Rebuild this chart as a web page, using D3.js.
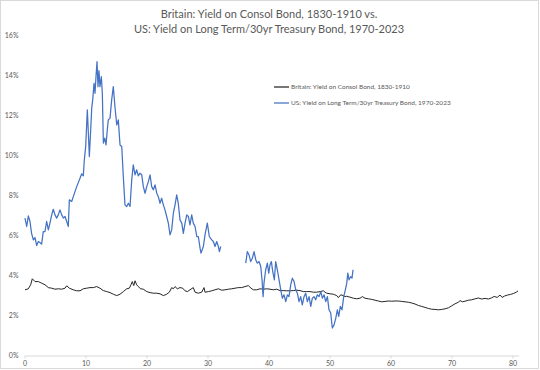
<meta charset="utf-8">
<html>
<script src="https://d3js.org/d3.v7.min.js"></script>
<style>
body { margin: 0; background: #fff; }
svg text { font-family: Lato, "Open Sans", sans-serif; fill: #595959; }
</style>
<body>
<svg id="chart" width="540" height="370"></svg>

<script type="text/javascript">

// ---- data (x = years since start of each series, y = yield in %) ----

var titleLines = ["Britain: Yield on Consol Bond, 1830-1910 vs.",
                  "US: Yield on Long Term/30yr Treasury Bond, 1970-2023"];

var seriesNames = ["Britain: Yield on Consol Bond, 1830-1910",
                   "US: Yield on Long Term/30yr Treasury Bond, 1970-2023"];

var yTicks = [0, 2, 4, 6, 8, 10, 12, 14, 16];
var xTicks = [0, 10, 20, 30, 40, 50, 60, 70, 80];

var britainYield = [
  [0.08,3.28],[0.63,3.33],[1.01,3.53],[1.28,3.83],[1.72,3.69],[2.27,3.69],[2.81,3.61],[3.36,3.53],
  [3.91,3.39],[4.46,3.36],[5.0,3.31],[5.54,3.33],[6.10,3.31],[6.64,3.36],[6.92,3.48],[7.35,3.36],
  [8.0,3.28],[8.56,3.23],[9.10,3.23],[9.64,3.33],[10.19,3.36],[10.74,3.39],[11.28,3.39],[11.84,3.44],
  [12.37,3.36],[12.93,3.24],[13.48,3.19],[14.02,3.14],[14.56,3.06],[15.12,2.99],[15.66,3.06],[16.20,3.19],
  [16.76,3.33],[17.18,3.36],[17.46,3.53],[17.67,3.69],[17.91,3.49],[18.12,3.73],[18.39,3.53],[18.65,3.44],
  [19.05,3.33],[19.48,3.31],[20.04,3.19],[20.58,3.14],[21.11,3.11],[21.68,3.11],[22.22,3.08],[22.76,2.99],
  [23.31,3.06],[23.74,3.16],[24.13,3.39],[24.40,3.33],[24.68,3.44],[25.05,3.33],[25.49,3.39],[25.94,3.36],
  [26.32,3.23],[26.70,3.19],[27.13,3.28],[27.67,3.39],[27.96,3.16],[28.50,3.11],[29.05,3.16],[29.43,3.39],
  [29.59,3.16],[30.14,3.19],[30.69,3.23],[31.23,3.28],[31.78,3.33],[32.34,3.26],[32.88,3.28],[33.41,3.31],
  [33.97,3.33],[34.52,3.36],[35.06,3.39],[35.61,3.39],[36.15,3.44],[36.70,3.49],[37.14,3.36],[37.51,3.28],
  [38.07,3.28],[38.62,3.33],[39.15,3.31],[39.71,3.33],[40.25,3.31],[40.79,3.28],[41.35,3.31],[41.89,3.24],
  [42.43,3.24],[42.98,3.23],[43.53,3.23],[44.07,3.24],[44.63,3.26],[45.17,3.24],[45.71,3.19],[46.27,3.19],
  [46.81,3.19],[47.36,3.16],[47.91,3.16],[48.45,3.19],[48.99,3.23],[49.27,3.16],[49.55,3.11],[50.09,3.08],
  [50.63,3.06],[51.19,2.99],[51.45,2.89],[51.84,3.03],[52.27,2.99],[52.55,2.94],[52.83,2.96],[53.37,2.91],
  [53.91,2.86],[54.46,2.83],[55.01,2.86],[55.39,2.94],[55.82,2.86],[56.37,2.83],[56.93,2.80],[57.47,2.76],
  [58.0,2.72],[58.57,2.68],[59.11,2.70],[59.65,2.72],[60.20,2.71],[60.75,2.72],[61.29,2.72],[61.84,2.70],
  [62.38,2.68],[62.93,2.66],[63.49,2.62],[64.02,2.57],[64.56,2.50],[65.13,2.45],[65.67,2.40],[66.21,2.35],
  [66.76,2.31],[67.31,2.30],[67.85,2.28],[68.41,2.30],[68.95,2.33],[69.49,2.38],[70.04,2.48],[70.58,2.58],
  [71.12,2.66],[71.41,2.74],[71.78,2.68],[72.22,2.71],[72.76,2.76],[73.32,2.78],[73.87,2.83],[74.41,2.87],
  [74.96,2.82],[75.50,2.85],[76.05,2.82],[76.60,2.88],[77.0,2.95],[77.5,2.90],[77.95,3.02],[78.3,2.90],
  [78.7,2.97],[79.2,3.02],[79.7,3.05],[80.2,3.10],[80.6,3.16],[80.9,3.22]
];

// null entry = the 2002-2006 hole in the 30yr series
var usYield = [
  [0.08,6.86],[0.36,6.44],[0.63,6.97],[0.90,6.69],[1.16,6.10],[1.45,5.77],[1.72,5.89],[2.0,5.49],
  [2.27,5.69],[2.52,5.64],[2.81,5.56],[3.08,6.19],[3.36,6.19],[3.63,6.69],[3.91,6.27],[4.17,6.61],
  [4.46,7.02],[4.72,7.30],[5.0,7.02],[5.28,6.86],[5.54,7.02],[5.81,7.27],[6.10,7.02],[6.37,6.86],
  [6.64,6.94],[6.92,6.69],[7.18,6.44],[7.35,7.77],[7.74,7.69],[8.0,7.93],[8.28,8.18],[8.56,8.43],
  [8.82,8.63],[9.10,8.85],[9.38,9.07],[9.64,8.97],[9.81,9.77],[10.03,10.43],[10.30,12.26],[10.47,11.10],
  [10.63,9.93],[10.85,11.26],[11.02,12.35],[11.18,12.76],[11.40,13.59],[11.56,13.09],[11.72,13.92],[11.89,14.67],
  [12.05,13.42],[12.21,14.22],[12.37,13.42],[12.60,13.92],[12.76,13.09],[12.93,10.60],[13.15,10.85],[13.36,10.51],
  [13.57,11.26],[13.74,11.76],[14.02,11.85],[14.29,12.76],[14.56,13.42],[14.83,12.42],[15.12,11.51],[15.38,11.76],
  [15.66,10.51],[15.94,10.43],[16.20,8.93],[16.47,7.52],[16.76,7.44],[17.02,7.60],[17.30,7.44],[17.58,8.77],
  [17.83,9.52],[18.12,9.02],[18.39,9.27],[18.65,8.97],[18.93,9.10],[19.22,9.02],[19.48,8.43],[19.76,8.10],
  [20.04,8.43],[20.30,8.68],[20.58,9.02],[20.85,8.43],[21.11,8.27],[21.40,8.52],[21.68,8.10],[21.94,7.93],
  [22.22,7.60],[22.48,7.85],[22.76,7.52],[23.03,7.27],[23.31,6.94],[23.58,6.61],[23.86,6.02],[24.13,6.27],
  [24.40,7.10],[24.68,7.52],[24.95,8.02],[25.21,7.60],[25.49,6.77],[25.78,6.61],[26.04,6.10],[26.32,6.61],
  [26.60,7.02],[26.86,6.94],[27.13,6.52],[27.41,7.02],[27.67,6.61],[27.96,6.44],[28.24,5.94],[28.50,5.94],
  [28.78,5.36],[28.94,5.11],[29.32,5.44],[29.59,6.02],[29.97,6.61],[30.30,5.94],[30.69,5.77],[30.96,5.69],
  [31.23,5.44],[31.51,5.69],[31.78,5.44],[31.95,5.19],[32.17,5.44],
  [34.0,null],
  [36.27,4.61],[36.53,5.19],[36.81,5.02],[37.08,4.69],[37.35,4.86],[37.63,5.19],[37.91,4.78],[38.17,4.61],
  [38.45,4.69],[38.73,4.44],[38.94,3.78],[39.11,2.94],[39.26,3.61],[39.54,4.28],[39.81,4.61],[40.04,4.11],
  [40.25,4.53],[40.47,4.69],[40.70,4.19],[40.96,3.78],[41.18,4.69],[41.45,4.28],[41.73,3.78],[42.01,3.28],
  [42.27,2.86],[42.54,3.03],[42.83,2.69],[43.09,3.03],[43.36,2.94],[43.64,3.53],[43.91,3.86],[44.19,3.69],
  [44.47,3.28],[44.73,3.11],[45.01,2.69],[45.28,2.94],[45.54,2.53],[45.83,2.94],[46.10,3.11],[46.37,2.69],
  [46.65,2.94],[46.93,2.45],[47.19,2.86],[47.46,2.94],[47.74,2.78],[48.00,3.03],[48.29,2.94],[48.57,3.19],
  [48.83,2.86],[49.11,3.03],[49.38,2.69],[49.65,2.94],[49.92,2.28],[50.20,2.12],[50.46,1.37],[50.75,1.53],
  [51.03,1.87],[51.29,2.28],[51.51,1.95],[51.78,2.45],[52.05,2.28],[52.33,2.94],[52.60,3.28],[52.83,3.61],
  [53.0,4.11],[53.20,3.78],[53.48,3.94],[53.69,3.86],[53.86,4.28]
];

var seriesColors = ["#262626", "#4472C4"];

// ---- layout ----

var svg = d3.select("#chart");

var x = d3.scaleLinear().domain([0, 81]).range([24.5, 518.6]);
var y = d3.scaleLinear().domain([0, 16]).range([355.5, 35]);

// chart area frame
svg.append("rect")
  .attr("x", 0.5).attr("y", 0.5)
  .attr("width", 538).attr("height", 368)
  .attr("fill", "none").attr("stroke", "#d9d9d9");

// title
svg.append("g").selectAll("text")
  .data(titleLines)
  .enter().append("text")
  .attr("x", 269)
  .attr("y", function(d, i) { return 18 + i * 14.5; })
  .attr("text-anchor", "middle")
  .style("font-size", "11px")
  .text(function(d) { return d; });

// y axis (labels only)
var yAxis = d3.axisLeft(y)
  .tickValues(yTicks)
  .tickSize(0)
  .tickPadding(6)
  .tickFormat(function(d) { return d + "%"; });

var gy = svg.append("g").attr("transform", "translate(24.5,0)").call(yAxis);
gy.select(".domain").remove();
gy.selectAll("text").style("font-size", "7px").style("fill", "#595959").style("font-family", "Lato, sans-serif");

// x axis
var xAxis = d3.axisBottom(x)
  .tickValues(xTicks)
  .tickSizeInner(3)
  .tickSizeOuter(0)
  .tickPadding(3);

var gx = svg.append("g").attr("transform", "translate(0,355.5)").call(xAxis);
gx.select(".domain").attr("stroke", "#d9d9d9");
gx.selectAll(".tick line").attr("stroke", "#d9d9d9");
gx.selectAll("text").style("font-size", "7px").style("fill", "#595959").style("font-family", "Lato, sans-serif");

// lines
var line = d3.line()
  .defined(function(d) { return d[1] != null; })
  .x(function(d) { return x(d[0]); })
  .y(function(d) { return y(d[1]); });

svg.append("path")
  .datum(britainYield)
  .attr("fill", "none")
  .attr("stroke", seriesColors[0])
  .attr("stroke-width", 1)
  .attr("d", line);

svg.append("path")
  .datum(usYield)
  .attr("fill", "none")
  .attr("stroke", seriesColors[1])
  .attr("stroke-width", 1.25)
  .attr("stroke-linejoin", "round")
  .attr("d", line);

// legend
var legend = svg.append("g").attr("transform", "translate(274,87)");
var items = legend.selectAll("g")
  .data(seriesNames)
  .enter().append("g")
  .attr("transform", function(d, i) { return "translate(0," + (i * 16) + ")"; });

items.append("line")
  .attr("x1", 0).attr("x2", 15)
  .attr("stroke", function(d, i) { return seriesColors[i]; })
  .attr("stroke-width", 1.25);

items.append("text")
  .attr("x", 17)
  .attr("dy", "0.33em")
  .style("font-size", "6.5px")
  .text(function(d) { return d; });

</script>
</body>
</html>
